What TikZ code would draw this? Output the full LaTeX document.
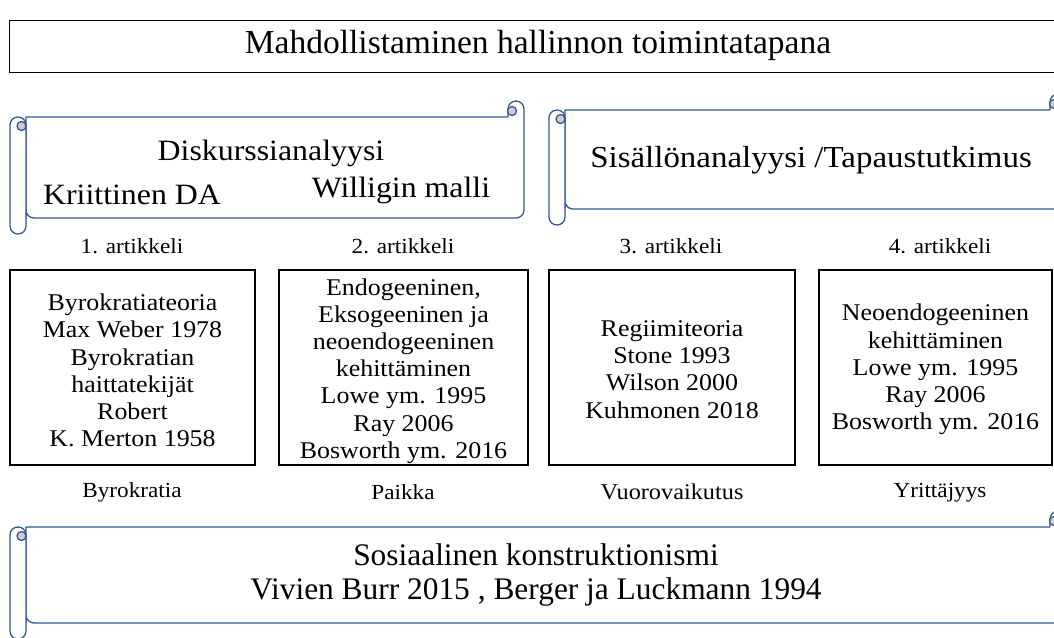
\documentclass[tikz,border=0pt]{standalone}
\usepackage{fontspec}
\setmainfont{Liberation Serif}[FakeStretch=1.08]
\newfontfamily\narrowf{Liberation Serif}
\definecolor{scrollblue}{RGB}{52,88,150}
\definecolor{curlgray}{RGB}{205,205,205}
\tikzset{
  scrollline/.style={draw=scrollblue, line width=1.3pt, line join=round},
  artbox/.style={draw=black, line width=1.3pt, inner sep=0pt,
    minimum height=195pt},
  boxtxt/.style={inner sep=0pt, align=center, font=\fontsize{24}{27.2}\selectfont},
  lbl/.style={inner sep=0pt, font=\fontsize{21.5}{24}\selectfont},
  head/.style={inner sep=0pt, font=\fontsize{29.5}{32}\selectfont},
}
% #1=x0 #2=x1 #3=yt #4=yb  (roll width 16, radius 8)
\newcommand\hscrollshape[4]{%
  \draw[scrollline, fill=white]
    ({#1+16},{#4-16}) -- ({#1+16},{#3+16}) -- ({#2-16},{#3+16}) -- ({#2-16},{#3+8})
    .. controls ({#2-16},{#3+3.6}) and ({#2-12.4},{#3}) .. ({#2-8},{#3})
    .. controls ({#2-3.6},{#3}) and ({#2},{#3+3.6}) .. ({#2},{#3+8})
    [rounded corners=8pt] -- ({#2},{#4-16}) -- ({#1+16},{#4-16}) [sharp corners] -- cycle;
  \draw[scrollline, fill=curlgray] ({#2-12},{#3+10}) circle[radius=4.5];
  \draw[scrollline, fill=white, rounded corners=7.9pt] ({#1},{#3+16}) rectangle ({#1+16},{#4});
  \draw[scrollline, fill=curlgray] ({#1+11.5},{#3+25}) circle[radius=4.5];
}
\begin{document}
\begin{tikzpicture}[x=1pt,y=-1pt]
\useasboundingbox (0,0) rectangle (1054,637);
\clip (0,0) rectangle (1054,637);
\fill[white] (0,0) rectangle (1054,637);

% title box
\node[draw=black, line width=1.3pt, minimum width=1062pt, minimum height=52pt,
  anchor=north west, inner sep=0pt] (title) at (9,20) {};
\node[inner sep=0pt, font=\narrowf\fontsize{33.5}{36}\selectfont] (titletext) at (538,45)
  {Mahdollistaminen hallinnon toimintatapana};

% scrolls
\hscrollshape{10}{524}{101}{234}
\node[head] (diskurssi) at (271,153) {Diskurssianalyysi};
\node[head] (kriittinen) at (132,195) {Kriittinen DA};
\node[head] (willigin) at (401,190) {Willigin malli};

\hscrollshape{549}{1066}{94}{225}
\node[head, font=\fontsize{30.5}{32}\selectfont] (sisallon) at (811,160) {Sisällönanalyysi /Tapaustutkimus};

\hscrollshape{10}{1066}{511}{639}
\node[inner sep=0pt, align=center, font=\narrowf\fontsize{31.4}{33.5}\selectfont] (sosiaalinen) at (536,575)
  {Sosiaalinen konstruktionismi\\Vivien Burr 2015 , Berger ja Luckmann 1994};

% article labels
\node[lbl] (a1) at (132,246) {1. artikkeli};
\node[lbl] (a2) at (403,246) {2. artikkeli};
\node[lbl] (a3) at (671,246) {3. artikkeli};
\node[lbl] (a4) at (940,246) {4. artikkeli};

% article boxes
\node[artbox, minimum width=245pt] (b1) at (132.5,367.5) {};
\node[artbox, minimum width=249pt] (b2) at (403.5,367.5) {};
\node[artbox, minimum width=246pt] (b3) at (672,367.5) {};
\node[artbox, minimum width=233pt] (b4) at (935.5,367.5) {};
\node[boxtxt] (b1t) at ([yshift=-3pt]b1.center)
  {Byrokratiateoria\\Max Weber 1978\\Byrokratian\\haittatekijät\\Robert\\K. Merton 1958};
\node[boxtxt] (b2t) at ([yshift=-3.5pt]b2.center)
  {Endogeeninen,\\Eksogeeninen ja\\neoendogeeninen\\kehittäminen\\Lowe ym. 1995\\Ray 2006\\Bosworth ym. 2016};
\node[boxtxt] (b3t) at ([yshift=-2pt]b3.center)
  {Regiimiteoria\\Stone 1993\\Wilson 2000\\Kuhmonen 2018};
\node[boxtxt] (b4t) at ([yshift=-2pt]b4.center)
  {Neoendogeeninen\\kehittäminen\\Lowe ym. 1995\\Ray 2006\\Bosworth ym. 2016};

% theme labels
\node[lbl] (t1) at (132,492) {Byrokratia};
\node[lbl] (t2) at (403,492) {Paikka};
\node[lbl, font=\fontsize{22.5}{24}\selectfont] (t3) at (672,492) {Vuorovaikutus};
\node[lbl] (t4) at (940,493) {Yrittäjyys};
\end{tikzpicture}
\end{document}
